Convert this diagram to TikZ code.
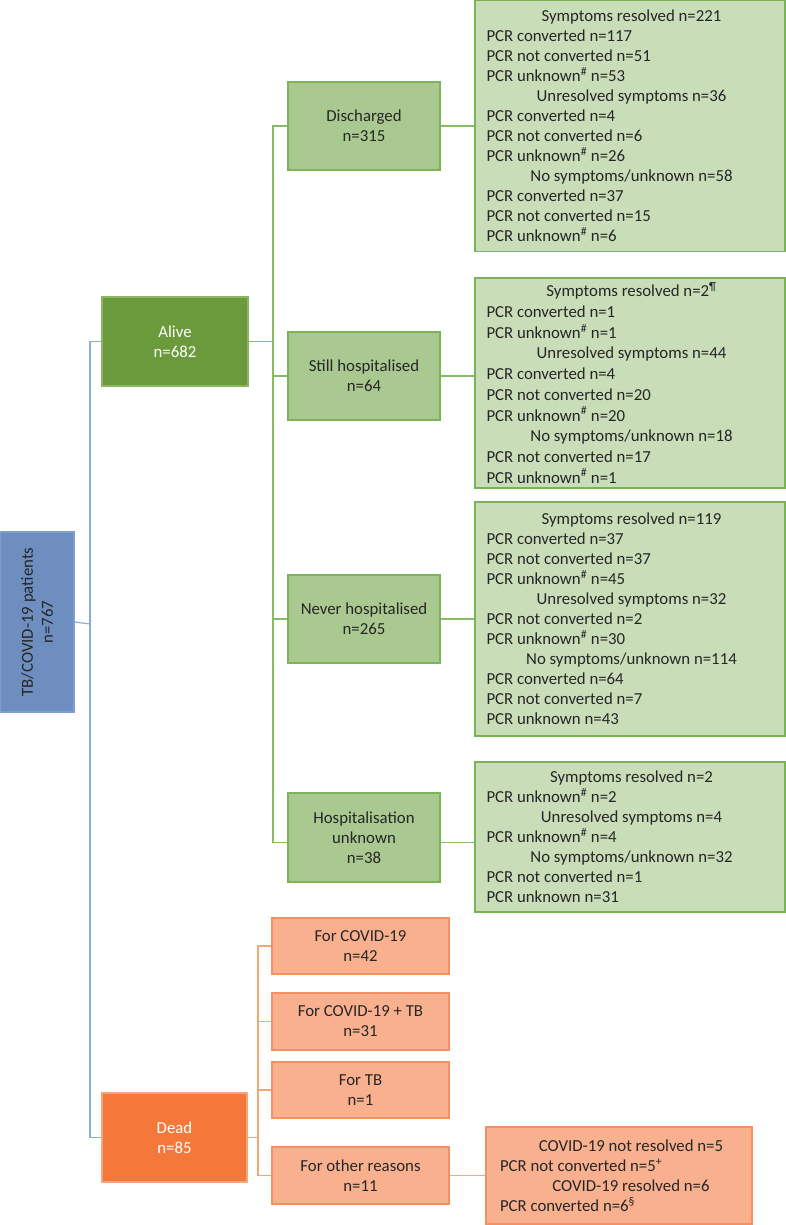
\documentclass[tikz,border=0pt]{standalone}
\usepackage{fontspec}
\setmainfont{Carlito}
\definecolor{txt}{HTML}{262626}
\definecolor{rootfill}{HTML}{6D8EBF}
\definecolor{rootdraw}{HTML}{7F9FD0}
\definecolor{blueline}{HTML}{8FAADC}
\definecolor{alivefill}{HTML}{6A9A3C}
\definecolor{alivedraw}{HTML}{8DB463}
\definecolor{gchfill}{HTML}{A9C990}
\definecolor{gchdraw}{HTML}{7DB35A}
\definecolor{grfill}{HTML}{C9DDB8}
\definecolor{grdraw}{HTML}{7AB356}
\definecolor{greenline}{HTML}{86BC63}
\definecolor{deadfill}{HTML}{F4783A}
\definecolor{deaddraw}{HTML}{F5A67A}
\definecolor{ochfill}{HTML}{F8B08F}
\definecolor{ochdraw}{HTML}{F59160}
\definecolor{orangeline}{HTML}{F6A577}
\newcommand\ctrline[1]{\makebox[\linewidth]{#1}}
\newcommand\supx[1]{\textsuperscript{#1}}
\newcommand\rtext[3]{\makebox[#1][l]{\parbox{#2}{#3}}}
\begin{document}
\begin{tikzpicture}[x=1pt,y=-1pt,
  every node/.style={font=\fontsize{16.8}{20}\selectfont, text=txt, inner sep=0pt},
  rootbox/.style={draw=rootdraw, fill=rootfill, line width=1.3pt, align=center},
  alivebox/.style={draw=alivedraw, fill=alivefill, line width=1.3pt, align=center, text=white},
  deadbox/.style={draw=deaddraw, fill=deadfill, line width=1.3pt, align=center, text=white},
  gchbox/.style={draw=gchdraw, fill=gchfill, line width=1.3pt, align=center, minimum width=152pt},
  grbox/.style={draw=grdraw, fill=grfill, line width=1.3pt, minimum width=310pt},
  ochbox/.style={draw=ochdraw, fill=ochfill, line width=1.3pt, align=center, minimum width=177pt},
  bconn/.style={draw=blueline, line width=1.2pt},
  gconn/.style={draw=greenline, line width=1.2pt},
  oconn/.style={draw=orangeline, line width=1.2pt}]
\useasboundingbox (0,0) rectangle (786,1225);

% root
\node[rootbox, rotate=90, minimum width=180pt, minimum height=74pt] (root) at (37,622) {TB/COVID-19 patients\\n=767};

% level 1
\node[alivebox, minimum width=146pt, minimum height=89pt] (alive) at (175,341.5) {Alive\\n=682};
\node[deadbox, minimum width=145pt, minimum height=89pt] (dead) at (174.5,1137.5) {Dead\\n=85};

% alive children
\node[gchbox, minimum height=88pt] (dis) at (364,126) {Discharged\\n=315};
\node[gchbox, minimum height=88pt] (still) at (364,376) {Still hospitalised\\n=64};
\node[gchbox, minimum height=88pt] (never) at (364,619) {Never hospitalised\\n=265};
\node[gchbox, minimum height=89pt] (hu) at (364,837.5) {Hospitalisation\\unknown\\n=38};

% detail boxes
\node[grbox, minimum height=251pt] (r1) at (630,126) {\rtext{287pt}{290pt}{%
\ctrline{Symptoms resolved n=221}\\
PCR converted n=117\\
PCR not converted n=51\\
PCR unknown\supx{\#} n=53\\
\ctrline{Unresolved symptoms n=36}\\
PCR converted n=4\\
PCR not converted n=6\\
PCR unknown\supx{\#} n=26\\
\ctrline{No symptoms/unknown n=58}\\
PCR converted n=37\\
PCR not converted n=15\\
PCR unknown\supx{\#} n=6}};

\node[grbox, minimum height=210pt] (r2) at (630,383) {\rtext{287pt}{290pt}{\fontsize{16.8}{20.7}\selectfont
\ctrline{Symptoms resolved n=2\supx{¶}}\\
PCR converted n=1\\
PCR unknown\supx{\#} n=1\\
\ctrline{Unresolved symptoms n=44}\\
PCR converted n=4\\
PCR not converted n=20\\
PCR unknown\supx{\#} n=20\\
\ctrline{No symptoms/unknown n=18}\\
PCR not converted n=17\\
PCR unknown\supx{\#} n=1}};

\node[grbox, minimum height=234pt] (r3) at (630,619) {\rtext{287pt}{290pt}{%
\ctrline{Symptoms resolved n=119}\\
PCR converted n=37\\
PCR not converted n=37\\
PCR unknown\supx{\#} n=45\\
\ctrline{Unresolved symptoms n=32}\\
PCR not converted n=2\\
PCR unknown\supx{\#} n=30\\
\ctrline{No symptoms/unknown n=114}\\
PCR converted n=64\\
PCR not converted n=7\\
PCR unknown n=43}};

\node[grbox, minimum height=150pt] (r4) at (630,837) {\rtext{287pt}{290pt}{%
\ctrline{Symptoms resolved n=2}\\
PCR unknown\supx{\#} n=2\\
\ctrline{Unresolved symptoms n=4}\\
PCR unknown\supx{\#} n=4\\
\ctrline{No symptoms/unknown n=32}\\
PCR not converted n=1\\
PCR unknown n=31}};

% dead children
\node[ochbox, minimum height=56pt] (c1) at (360.5,946) {For COVID-19\\n=42};
\node[ochbox, minimum height=57pt] (c2) at (360.5,1021.5) {For COVID-19 + TB\\n=31};
\node[ochbox, minimum height=56pt] (c3) at (360.5,1090) {For TB\\n=1};
\node[ochbox, minimum height=57pt] (c4) at (360.5,1175.5) {For other reasons\\n=11};

\node[draw=ochdraw, fill=ochfill, line width=1.3pt, minimum width=266pt, minimum height=97pt] (fin) at (619,1175.5) {\rtext{238pt}{262pt}{%
\ctrline{COVID-19 not resolved n=5}\\
PCR not converted n=5\supx{+}\\
\ctrline{COVID-19 resolved n=6}\\
PCR converted n=6\supx{§}}};

% blue connectors
\coordinate (bv) at (90,624);
\draw[bconn] (root.south) -- (bv);
\draw[bconn] (alive.west) -- (alive.west -| bv) -- (dead.west -| bv) -- (dead.west);

% green connectors
\coordinate (gv) at (273,0);
\coordinate (hup) at ([yshift=-5pt]hu.west);
\draw[gconn] (alive.east) -- (alive.east -| gv);
\draw[gconn] (dis.west) -- (dis.west -| gv) -- (hup -| gv) -- (hup);
\draw[gconn] (still.west) -- (still.west -| gv);
\draw[gconn] (never.west) -- (never.west -| gv);
\draw[gconn] (dis.east) -- (dis.east -| r1.west);
\draw[gconn] (still.east) -- (still.east -| r2.west);
\draw[gconn] (never.east) -- (never.east -| r3.west);
\draw[gconn] (hup -| hu.east) -- (hup -| r4.west);

% orange connectors
\coordinate (ov) at (258,0);
\draw[oconn] (dead.east) -- (dead.east -| ov);
\draw[oconn] (c1.west) -- (c1.west -| ov) -- (c4.west -| ov) -- (c4.west);
\draw[oconn] (c2.west) -- (c2.west -| ov);
\draw[oconn] (c3.west) -- (c3.west -| ov);
\draw[oconn] (c4.east) -- (c4.east -| fin.west);
\end{tikzpicture}
\end{document}
